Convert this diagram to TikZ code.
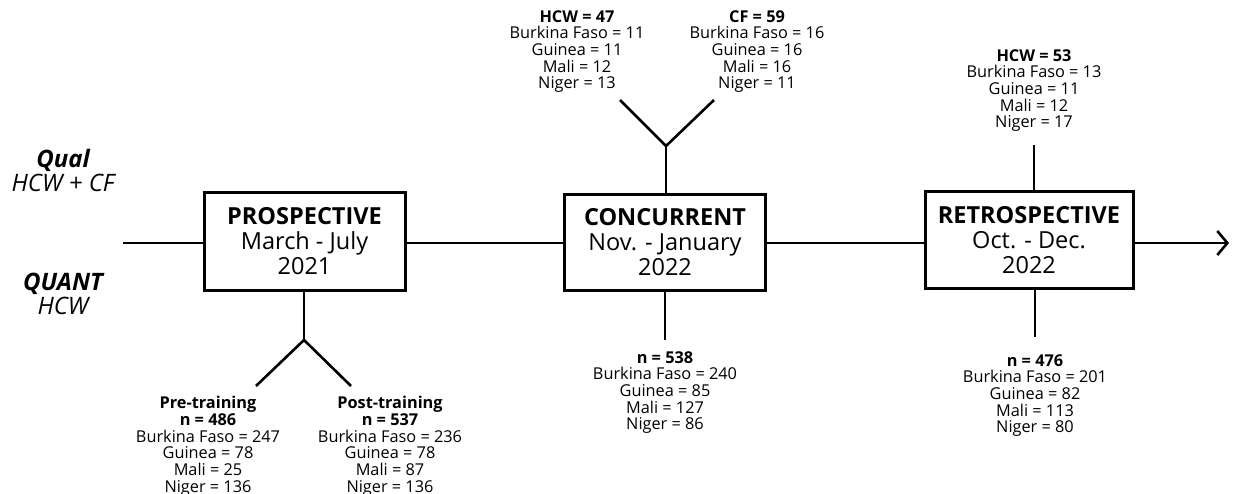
\documentclass[tikz,border=0pt]{standalone}
\usepackage{fontspec}
\setmainfont{Open Sans}
\usetikzlibrary{arrows.meta}
\begin{document}
\begin{tikzpicture}[x=1pt,y=-1pt,line width=2.6pt,
  phase/.style={draw,line width=3pt,inner sep=0pt,align=center,
    font=\fontsize{23.5}{25}\selectfont},
  info/.style={inner sep=0pt,align=center,anchor=north,
    font=\fontsize{16.3}{16.7}\selectfont},
  side/.style={inner sep=0pt,align=center,font=\fontsize{24}{24}\selectfont\itshape}]
\useasboundingbox (0,0) rectangle (1233,494);
% phase boxes
\node[phase,minimum width=201pt,minimum height=97pt] (p1) at (304.5,241.5)
  {\textbf{PROSPECTIVE}\\March - July\\2021};
\node[phase,minimum width=201pt,minimum height=95pt] (p2) at (665,242.5)
  {\textbf{CONCURRENT}\\Nov. - January\\2022};
\node[phase,minimum width=208pt,minimum height=96pt] (p3) at (1029,240)
  {\textbf{RETROSPECTIVE}\\Oct. - Dec.\\2022};
% timeline
\coordinate (start) at (123,243);
\coordinate (end) at (1229,243);
\draw (start) -- (start -| p1.west);
\draw (p1.east |- start) -- (p2.west |- start);
\draw (p2.east |- start) -- (p3.west |- start);
\draw[-{Straight Barb[length=10pt,width=24pt]}] (p3.east |- start) -- (end);
% side labels
\node[side] (qual) at (63,171) {\textbf{Qual}\\HCW + CF};
\node[side] (quant) at (63,294) {\textbf{QUANT}\\HCW};
% prospective fork
\coordinate (f1) at (304,340);
\coordinate (f1l) at (256,386);
\coordinate (f1r) at (351,386);
\draw (p1.south -| f1) -- (f1);
\draw (f1l) -- (f1) -- (f1r);
\node[info] (pre) at (208,395)
  {\textbf{Pre-training}\\\textbf{n = 486}\\Burkina Faso = 247\\Guinea = 78\\Mali = 25\\Niger = 136};
\node[info] (post) at (390,395)
  {\textbf{Post-training}\\\textbf{n = 537}\\Burkina Faso = 236\\Guinea = 78\\Mali = 87\\Niger = 136};
% concurrent
\coordinate (f2) at (666,146);
\coordinate (f2l) at (620,100);
\coordinate (f2r) at (714,100);
\draw (p2.north -| f2) -- (f2);
\draw (f2l) -- (f2) -- (f2r);
\node[info] (hcw1) at (577,9)
  {\textbf{HCW = 47}\\Burkina Faso = 11\\Guinea = 11\\Mali = 12\\Niger = 13};
\node[info] (cf1) at (757,9)
  {\textbf{CF = 59}\\Burkina Faso = 16\\Guinea = 16\\Mali = 16\\Niger = 11};
\coordinate (d2) at (665,340);
\draw (p2.south -| d2) -- (d2);
\node[info] (n2) at (665,350)
  {\textbf{n = 538}\\Burkina Faso = 240\\Guinea = 85\\Mali = 127\\Niger = 86};
% retrospective
\coordinate (u3) at (1034,145);
\draw (p3.north -| u3) -- (u3);
\node[info] (hcw3) at (1034,48)
  {\textbf{HCW = 53}\\Burkina Faso = 13\\Guinea = 11\\Mali = 12\\Niger = 17};
\coordinate (d3) at (1035,337);
\draw (p3.south -| d3) -- (d3);
\node[info] (n3) at (1035,353)
  {\textbf{n = 476}\\Burkina Faso = 201\\Guinea = 82\\Mali = 113\\Niger = 80};
\end{tikzpicture}
\end{document}
